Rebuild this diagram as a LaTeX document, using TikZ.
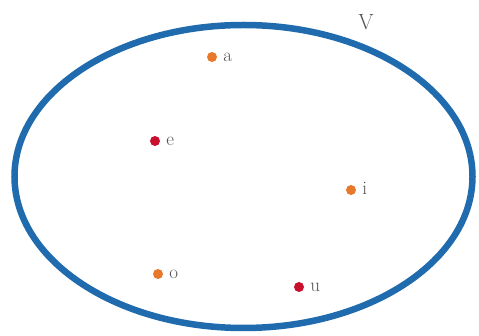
\documentclass[tikz,border=0pt]{standalone}
\usepackage{xcolor}
\usepackage{tikz}
\definecolor{kumeMavi}{HTML}{1F6BAE}
\definecolor{noktaTuruncu}{HTML}{E8782A}
\definecolor{noktaKirmizi}{HTML}{C8102E}
\definecolor{yaziGri}{HTML}{555555}
\tikzset{
  nokta/.style={circle,inner sep=0pt,minimum size=10pt},
  etiket/.style={yaziGri,font=\fontsize{19}{19}\selectfont,inner sep=1pt,anchor=base west}
}
\begin{document}
\begin{tikzpicture}[x=1pt,y=-1pt]
\useasboundingbox (0,0) rectangle (479,336);
% kume V
\draw[kumeMavi,line width=6.5pt] (243.5,176.5) ellipse [x radius=229,y radius=151.5];
\node[yaziGri,font=\fontsize{22}{22}\selectfont,anchor=base] (V) at (366,30) {V};
% elemanlar
\foreach \ad/\px/\py/\renk in {a/212/57/noktaTuruncu,e/155/141/noktaKirmizi,i/351/190/noktaTuruncu,o/158/274/noktaTuruncu,u/299/287/noktaKirmizi} {
  \node[nokta,fill=\renk] (n\ad) at (\px,\py) {};
  \node[etiket] (l\ad) at ([xshift=5pt,yshift=-5pt]n\ad.east) {\ad};
}
\end{tikzpicture}
\end{document}
